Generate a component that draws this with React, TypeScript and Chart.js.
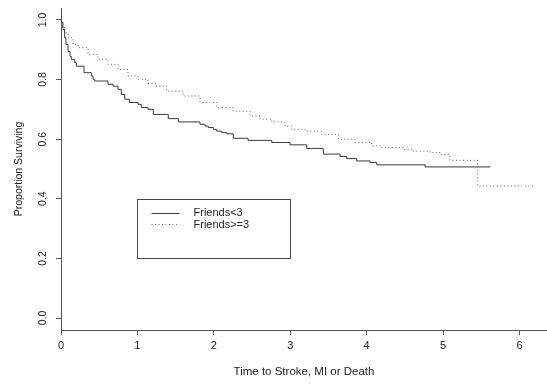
import React, { useEffect, useRef } from "react";
import { Chart, registerables } from "chart.js";

Chart.register(...registerables);

// ---- data ----
const seriesLabels = ["Friends<3", "Friends>=3"];

// Kaplan-Meier steps, Friends<3 (solid)
const lowTimes = [
  0, 0.004, 0.026, 0.048, 0.065, 0.092, 0.118, 0.135, 0.179, 0.2, 0.301, 0.397,
  0.419, 0.441, 0.615, 0.681, 0.746, 0.789, 0.834, 0.899, 1.008, 1.051, 1.139,
  1.208, 1.404, 1.535, 1.819, 1.885, 1.928, 1.993, 2.038, 2.103, 2.169, 2.255,
  2.448, 2.758, 2.997, 3.216, 3.433, 3.652, 3.74, 3.87, 4.044, 4.132, 4.764, 5.62,
];
const lowSurv = [
  1.0, 0.991, 0.968, 0.94, 0.918, 0.894, 0.878, 0.868, 0.857, 0.845, 0.823, 0.812,
  0.801, 0.795, 0.784, 0.778, 0.767, 0.75, 0.734, 0.723, 0.717, 0.706, 0.7,
  0.683, 0.669, 0.658, 0.65, 0.644, 0.639, 0.633, 0.627, 0.622, 0.618, 0.603,
  0.596, 0.589, 0.581, 0.569, 0.55, 0.542, 0.535, 0.527, 0.522, 0.514, 0.507, 0.507,
];

// Kaplan-Meier steps, Friends>=3 (dotted)
const highTimes = [
  0, 0.004, 0.02, 0.048, 0.092, 0.157, 0.223, 0.353, 0.484, 0.615, 0.746, 0.877,
  1.008, 1.139, 1.247, 1.384, 1.601, 1.819, 2.038, 2.255, 2.474, 2.605, 2.758,
  2.932, 3.02, 3.194, 3.412, 3.63, 3.848, 4.067, 4.175, 4.48, 4.611, 4.83, 4.961,
  5.069, 5.092, 5.454, 6.182,
];
const highSurv = [
  1.0, 0.991, 0.975, 0.957, 0.94, 0.918, 0.907, 0.884, 0.868, 0.851, 0.834, 0.812,
  0.801, 0.787, 0.778, 0.761, 0.745, 0.723, 0.706, 0.694, 0.678, 0.667, 0.658,
  0.644, 0.633, 0.627, 0.616, 0.6, 0.589, 0.578, 0.572, 0.566, 0.56, 0.555, 0.549,
  0.542, 0.529, 0.443, 0.443,
];

const xTicks = [0, 1, 2, 3, 4, 5, 6];
const yTicks = [0, 0.2, 0.4, 0.6, 0.8, 1.0];
const xTitle = "Time to Stroke, MI or Death";
const yTitle = "Proportion Surviving";

// ---- styling constants ----
const FONT = "'Liberation Sans', Arial, Helvetica, sans-serif";
const AXIS_COLOR = "#555";
const TEXT_COLOR = "#222";
const SOLID_COLOR = "#3a3a3a";
const DOTTED_COLOR = "#666";

const legendPlugin = {
  id: "kmLegend",
  afterDatasetsDraw(chart: any) {
    const { ctx, scales } = chart;
    const x = scales.x;
    const y = scales.y;
    const left = Math.round(x.getPixelForValue(1)) + 0.5;
    const right = Math.round(x.getPixelForValue(3)) + 0.5;
    const top = Math.round(y.getPixelForValue(0.4)) + 0.5;
    const bottom = Math.round(y.getPixelForValue(0.2)) + 0.5;
    ctx.save();
    ctx.strokeStyle = "#444";
    ctx.lineWidth = 1;
    ctx.setLineDash([]);
    ctx.strokeRect(left, top, right - left, bottom - top);

    const rows = [
      { label: seriesLabels[0], color: SOLID_COLOR, dash: [] as number[], dy: 13 },
      { label: seriesLabels[1], color: DOTTED_COLOR, dash: [1, 2.5], dy: 24.5 },
    ];
    ctx.font = `11px ${FONT}`;
    ctx.textBaseline = "middle";
    ctx.textAlign = "left";
    for (const r of rows) {
      const ly = Math.round(top + r.dy) + 0.5;
      ctx.strokeStyle = r.color;
      ctx.setLineDash(r.dash);
      ctx.beginPath();
      ctx.moveTo(left + 14, ly);
      ctx.lineTo(left + 42, ly);
      ctx.stroke();
      ctx.fillStyle = TEXT_COLOR;
      ctx.fillText(r.label, left + 56, top + r.dy + 0.5);
    }
    ctx.restore();
  },
};

export default function App() {
  const canvasRef = useRef<HTMLCanvasElement | null>(null);

  useEffect(() => {
    const canvas = canvasRef.current;
    if (!canvas) return;
    const chart = new Chart(canvas, {
      type: "line",
      data: {
        datasets: [
          {
            label: seriesLabels[0],
            data: lowTimes.map((t, i) => ({ x: t, y: lowSurv[i] })),
            stepped: "before",
            borderColor: SOLID_COLOR,
            borderWidth: 1,
            pointRadius: 0,
            fill: false,
          },
          {
            label: seriesLabels[1],
            data: highTimes.map((t, i) => ({ x: t, y: highSurv[i] })),
            stepped: "before",
            borderColor: DOTTED_COLOR,
            borderWidth: 1,
            borderDash: [1, 2.5],
            pointRadius: 0,
            fill: false,
          },
        ],
      },
      options: {
        animation: false,
        responsive: false,
        layout: { padding: { top: 8, right: 0, left: 0, bottom: 0 } },
        plugins: {
          legend: { display: false },
          tooltip: { enabled: false },
        },
        scales: {
          x: {
            type: "linear",
            min: 0,
            max: 6.36,
            afterBuildTicks: (scale: any) => {
              scale.ticks = xTicks.map((v) => ({ value: v }));
            },
            afterFit: (scale: any) => {
              scale.height = 54;
              scale.paddingLeft = 0;
              scale.paddingRight = 0;
            },
            ticks: {
              autoSkip: false,
              maxRotation: 0,
              padding: 4,
              color: TEXT_COLOR,
              font: { family: FONT, size: 11 },
              callback: (v: any) => String(v),
            },
            grid: {
              drawOnChartArea: false,
              drawTicks: true,
              tickLength: 5,
              color: AXIS_COLOR,
              lineWidth: 1,
            },
            border: { display: true, color: AXIS_COLOR, width: 1 },
            title: {
              display: true,
              text: xTitle,
              color: TEXT_COLOR,
              font: { family: FONT, size: 11.5 },
              padding: { top: 0, bottom: 5 },
            },
          },
          y: {
            type: "linear",
            min: -0.04,
            max: 1.04,
            afterBuildTicks: (scale: any) => {
              scale.ticks = yTicks.map((v) => ({ value: v }));
            },
            afterFit: (scale: any) => {
              scale.width = 61;
              scale.paddingTop = 0;
              scale.paddingBottom = 0;
            },
            ticks: {
              autoSkip: false,
              minRotation: 90,
              maxRotation: 90,
              crossAlign: "center",
              padding: 6,
              color: TEXT_COLOR,
              font: { family: FONT, size: 10.5 },
              callback: (v: any) => Number(v).toFixed(1),
            },
            grid: {
              drawOnChartArea: false,
              drawTicks: true,
              tickLength: 5,
              color: AXIS_COLOR,
              lineWidth: 1,
            },
            border: { display: true, color: AXIS_COLOR, width: 1 },
            title: {
              display: true,
              text: yTitle,
              color: TEXT_COLOR,
              font: { family: FONT, size: 10.5 },
              padding: { top: 13, bottom: 0 },
            },
          },
        },
      },
      plugins: [legendPlugin],
    } as any);
    return () => chart.destroy();
  }, []);

  return (
    <div style={{ position: "absolute", left: 0, top: 0, width: 547, height: 384, background: "#fff" }}>
      <canvas ref={canvasRef} width={547} height={384} style={{ display: "block" }} />
    </div>
  );
}
